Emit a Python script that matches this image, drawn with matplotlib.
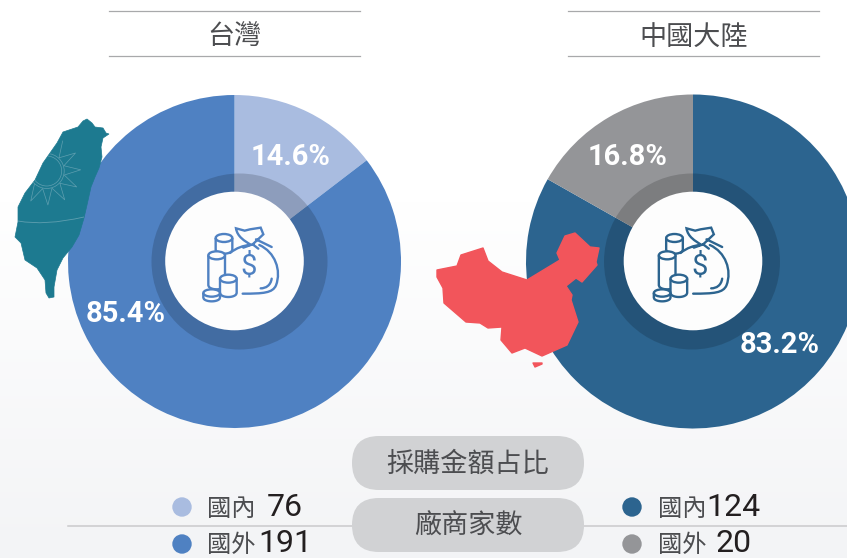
"""Two donuts of purchase share, Taiwan vs mainland China, with supplier counts below."""
import matplotlib

matplotlib.use("Agg")

import matplotlib.pyplot as plt
import numpy as np
from matplotlib.colors import LinearSegmentedColormap
from matplotlib.patches import Circle, Ellipse, FancyBboxPatch, PathPatch, Polygon
from matplotlib.path import Path

plt.rcParams["font.family"] = ["Noto Sans CJK TC", "DejaVu Sans"]

OUT = "out.png"

TITLES = ["台灣", "中國大陸"]
TW_SHARE = [14.6, 85.4]
CN_SHARE = [83.2, 16.8]
TW_COLORS = ["#a9bce0", "#4f81c2"]
CN_COLORS = ["#2c648f", "#949598"]
PILLS = ["採購金額占比", "廠商家數"]
COUNT_LABELS = ["國內", "國外"]
TW_COUNTS = [76, 191]
CN_COUNTS = [124, 20]

NUM_FONT = ["Roboto", "DejaVu Sans"]
CJK_GREY = "#4c4d50"

# map outlines traced by hand, in pixels
TAIWAN = [(87, 119), (92, 123), (95, 127), (103, 128), (106, 133), (109, 134), (103, 138), (101, 147),
          (102, 157), (99, 168), (95, 177), (91, 187), (87, 205), (84, 218), (79, 235), (72, 247),
          (63, 258), (57, 270), (54, 287), (54, 297), (49, 298), (46, 293), (45, 280), (37, 268),
          (25, 260), (21, 243), (15, 237), (18, 222), (18, 207), (25, 193), (35, 180), (43, 163),
          (50, 153), (57, 143), (63, 132), (78, 127), (83, 121)]
CHINA = [(437, 270), (457, 266), (461, 255), (483, 248), (488, 261), (502, 272), (527, 280),
         (560, 260), (557, 253), (565, 236), (575, 233), (590, 247), (599, 248), (596, 262),
         (597, 265), (582, 282), (576, 278), (566, 286), (572, 295), (571, 300), (578, 322),
         (567, 345), (542, 356), (525, 348), (512, 353), (501, 340), (502, 327), (488, 328),
         (480, 323), (466, 322), (444, 303), (443, 288), (437, 277)]
HAINAN = [(533, 363), (542, 363), (542, 364), (535, 367)]


def draw_icon(ax, cx, cy, color):
    # icon offsets come from the zoomed crop, 3 units to the pixel
    lw = 1.7

    def pt(x, y):
        return cx + (x - 255) / 3, cy + (y - 272) / 3

    def cylinder(x, top, rx, ry, bottom):
        xs = np.linspace(-rx, rx, 30)
        ys = bottom + ry * np.sqrt(1 - (xs / rx) ** 2)
        px = [pt(x - rx, top)] + [pt(x + a, b) for a, b in zip(xs, ys)] + [pt(x + rx, top)]
        ax.add_patch(Polygon(px, closed=False, fc="#fdfdfd", ec=color, lw=lw, zorder=6))
        ax.add_patch(Ellipse(pt(x, top), 2 * rx / 3, 2 * ry / 3, fc="#fdfdfd", ec=color, lw=lw, zorder=6))

    cylinder(222, 203, 25, 12, 238)
    cylinder(200, 255, 25, 12, 345)
    cylinder(235, 325, 25, 12, 368)
    cylinder(185, 368, 25, 11, 382)

    body = [(Path.MOVETO, (240, 248)), (Path.CURVE4, (260, 232)), (Path.CURVE4, (280, 226)), (Path.CURVE4, (298, 224)),
            (Path.MOVETO, (328, 224)), (Path.CURVE4, (375, 245)), (Path.CURVE4, (395, 300)), (Path.CURVE4, (378, 345)),
            (Path.CURVE4, (368, 368)), (Path.CURVE4, (340, 370)), (Path.LINETO, (278, 370)),
            (Path.MOVETO, (365, 325)), (Path.CURVE4, (362, 345)), (Path.CURVE4, (348, 354)), (Path.LINETO, (332, 354)),
            (Path.MOVETO, (300, 222)), (Path.CURVE4, (285, 212)), (Path.CURVE4, (262, 200)), (Path.LINETO, (258, 174)),
            (Path.LINETO, (284, 181)), (Path.LINETO, (300, 177)), (Path.LINETO, (332, 172)), (Path.LINETO, (340, 192)),
            (Path.LINETO, (308, 222)), (Path.LINETO, (280, 232)),
            (Path.MOVETO, (308, 222)), (Path.LINETO, (325, 235)),
            (Path.MOVETO, (318, 207)), (Path.LINETO, (365, 230))]
    codes = [c for c, _ in body]
    verts = [pt(*p) for _, p in body]
    ax.add_patch(PathPatch(Path(verts, codes), fc="none", ec=color, lw=lw, capstyle="round", zorder=6))
    ax.text(*pt(297, 288), "$", color=color, fontsize=21, ha="center", va="center",
            family=NUM_FONT, zorder=6)


def draw_donut(ax, values, colors, center, radius, ring_x):
    ax.pie(values, colors=colors, center=center, radius=radius, startangle=-90,
           counterclock=True, wedgeprops=dict(linewidth=0))
    ax.add_patch(Circle((ring_x, center[1]), 88, fc="black", ec="none", alpha=0.16, zorder=4))
    ax.add_patch(Circle((center[0], center[1] - 0.5), 69.3, fc="#fdfdfd", ec="none", zorder=5))


fig = plt.figure(figsize=(8.47, 5.58), dpi=100)
ax = fig.add_axes([0, 0, 1, 1])

grad = np.concatenate([np.zeros(200), np.linspace(0, 1, 358)]).reshape(-1, 1)
ax.imshow(grad, extent=(0, 847, 558, 0), aspect="auto",
          cmap=LinearSegmentedColormap.from_list("bg", ["#ffffff", "#f3f4f6"]), zorder=0)

tw_center = (234.5, 261.5)
cn_center = (693, 261.5)
draw_donut(ax, TW_SHARE, TW_COLORS, tw_center, 166.5, 239.5)
draw_donut(ax, CN_SHARE, CN_COLORS, cn_center, 167, 692)
draw_icon(ax, 235, 261, "#4f81c2")
draw_icon(ax, 685.5, 261, "#2c648f")

ax.set_xlim(0, 847)
ax.set_ylim(558, 0)
ax.set_aspect("auto")
ax.axis("off")

# share labels
pct_style = dict(color="white", fontsize=21, family=NUM_FONT, weight="bold", ha="center",
                 va="center", zorder=7)
for (x, y), v in zip([(291, 157), (126, 314)], TW_SHARE):
    ax.text(x, y, f"{v:.1f}%", **pct_style)
for (x, y), v in zip([(780, 345), (628, 157)], CN_SHARE):
    ax.text(x, y, f"{v:.1f}%", **pct_style)

# titles between two rules
for title, (x0, x1) in zip(TITLES, [(109, 360), (568, 819)]):
    for y in (11, 56):
        ax.plot([x0, x1], [y, y], color="#a8a9ab", lw=0.9, zorder=2)
    ax.text((x0 + x1) / 2, 37.5, title, fontsize=19.5, color=CJK_GREY, ha="center", va="center", weight="light")

# maps
tw = Polygon(TAIWAN, fc="#1d7a90", ec="#1d7a90", lw=0.5, zorder=8)
ax.add_patch(tw)
sun_c = (46.7, 171)
for r in (15, 17.5):
    sun = Circle(sun_c, r, fc="none", ec="#5f9fb0", lw=0.5, zorder=9)
    ax.add_patch(sun)
    sun.set_clip_path(tw)
angs = np.deg2rad(np.arange(62, -135, -15))
sx = [sun_c[0] + (34 if i % 2 == 0 else 18) * np.cos(a) for i, a in enumerate(angs)]
sy = [sun_c[1] - (34 if i % 2 == 0 else 18) * np.sin(a) for i, a in enumerate(angs)]
for line in ax.plot(sx, sy, color="#5f9fb0", lw=0.5, zorder=9):
    line.set_clip_path(tw)
belt = PathPatch(Path([(18, 221), (45, 226), (84, 217)], [Path.MOVETO, Path.CURVE3, Path.CURVE3]),
                 fc="none", ec="#5f9fb0", lw=0.6, zorder=9)
ax.add_patch(belt)
belt.set_clip_path(tw)

for outline in (CHINA, HAINAN):
    ax.add_patch(Polygon(outline, fc="#f2555b", ec="#f2555b", lw=1.0, joinstyle="round", zorder=8))

# bottom rule and pills
ax.plot([68, 847], [526, 526], color="#c9cacb", lw=1.1, zorder=1)
for label, y0 in zip(PILLS, (436, 498)):
    ax.add_patch(FancyBboxPatch((352, y0), 232, 54, boxstyle="round,pad=0,rounding_size=27",
                                fc="#d1d2d4", ec="none", zorder=3))
    ax.text(468, y0 + 28, label, fontsize=19.5, color=CJK_GREY, ha="center", va="center",
            weight="light", zorder=4)

# supplier counts
rows = (507, 544)
for counts, colors, dot_x, lab_x, num_x in [
    (TW_COUNTS, TW_COLORS, 182, 231, (285, 285)),
    (CN_COUNTS, CN_COLORS, 632, 682, (733, 734)),
]:
    for y, lab, n, c, nx in zip(rows, COUNT_LABELS, counts, colors, num_x):
        ax.add_patch(Circle((dot_x, y), 9.7, fc=c, ec="none", zorder=3))
        ax.text(lab_x, y + 1.5, lab, fontsize=17.5, color=CJK_GREY, ha="center", va="center", weight="light")
        ax.text(nx, y, str(n), fontsize=23, color="#231f20", ha="center", va="center", family=NUM_FONT)

fig.savefig(OUT, dpi=100)
